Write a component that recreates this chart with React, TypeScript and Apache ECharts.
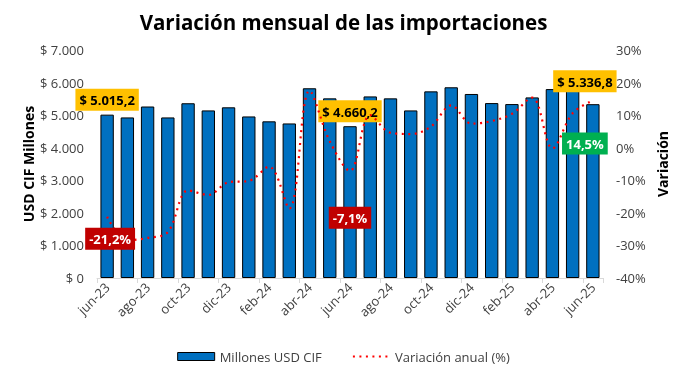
import React, { useEffect, useRef } from "react";
import * as echarts from "echarts";

const categories = [
  "jun-23", "jul-23", "ago-23", "sep-23", "oct-23", "nov-23", "dic-23",
  "ene-24", "feb-24", "mar-24", "abr-24", "may-24", "jun-24", "jul-24",
  "ago-24", "sep-24", "oct-24", "nov-24", "dic-24", "ene-25", "feb-25",
  "mar-25", "abr-25", "may-25", "jun-25",
];

const importsUSD = [
  5015.2, 4930, 5265, 4930, 5365, 5145, 5240, 4960, 4810, 4745, 5825, 5515,
  4660.2, 5575, 5515, 5145, 5730, 5855, 5650, 5370, 5340, 5545, 5800, 5900,
  5336.8,
];

const annualVariation = [
  -21.2, -28.4, -27.7, -25.9, -13.1, -14.5, -10.6, -10.2, -5.8, -18.7, 17.5,
  2.0, -7.1, 10.0, 4.6, 4.2, 6.5, 13.0, 7.4, 8.2, 10.4, 15.4, -0.2, 10.6, 14.5,
];

const leftTicks = [0, 7000, 1000];
const rightTicks = [-40, 30, 10];

const FONT = '"Open Sans", "Noto Sans", sans-serif';

function fmtThousands(v: number, decimals: number) {
  const fixed = Math.abs(v).toFixed(decimals);
  const [intPart, dec] = fixed.split(".");
  const withDots = intPart.replace(/\B(?=(\d{3})+(?!\d))/g, ".");
  return (v < 0 ? "-" : "") + withDots + (dec ? "," + dec : "");
}

export default function App() {
  const ref = useRef<HTMLDivElement>(null);

  useEffect(() => {
    if (!ref.current) return;
    const chart = echarts.init(ref.current, undefined, { renderer: "svg" });

    const barLabel = (offset: number[], distance: number) => ({
      show: true,
      position: "top",
      distance,
      offset,
      formatter: (p: any) => "$ " + fmtThousands(p.value, 1),
      backgroundColor: "#FFC000",
      color: "#000",
      fontFamily: FONT,
      fontWeight: "bold",
      fontSize: 13,
      padding: [4, 4, 3, 4],
      lineHeight: 15,
    });

    const lineLabel = (bg: string, offset: number[], distance: number) => ({
      show: true,
      position: "bottom",
      distance,
      offset,
      formatter: (p: any) => fmtThousands(p.value, 1) + "%",
      backgroundColor: bg,
      color: "#fff",
      fontFamily: FONT,
      fontWeight: "bold",
      fontSize: 13,
      padding: [4, 4, 3, 4],
      lineHeight: 15,
    });

    const last = categories.length - 1;
    const barData = importsUSD.map((v, i) => {
      if (i === 0) return { value: v, label: barLabel([0, 0], 4) };
      if (i === 12) return { value: v, label: barLabel([0, 0], 4) };
      if (i === last) return { value: v, label: barLabel([-8, -8], 4) };
      return v;
    });

    const lineData = annualVariation.map((v, i) => {
      if (i === 0) return { value: v, label: lineLabel("#C00000", [3, 0], 11) };
      if (i === 12) return { value: v, label: lineLabel("#C00000", [0, 0], 36) };
      if (i === last) return { value: v, label: lineLabel("#00B050", [-8, 0], 32) };
      return v;
    });

    const lineStyle = { color: "#FF0000", width: 2.2, type: [2, 4.5] };

    chart.setOption({
      animation: false,
      textStyle: { fontFamily: FONT },
      title: {
        text: "Variación mensual de las importaciones",
        left: "center",
        top: 6,
        textStyle: {
          fontFamily: FONT,
          fontWeight: "bold",
          fontSize: 20.5,
          color: "#000",
        },
      },
      legend: {
        left: "center",
        top: 345,
        itemWidth: 37,
        itemHeight: 8,
        itemGap: 30,
        textStyle: { fontFamily: FONT, fontSize: 13, color: "#404040" },
        data: [
          {
            name: "Millones USD CIF",
            icon: "rect",
            itemStyle: { color: "#0070C0", borderColor: "#000", borderWidth: 1 },
          },
          {
            name: "Variación anual (%)",
            itemStyle: { color: "rgba(0,0,0,0)", opacity: 0, borderWidth: 0 },
            lineStyle: lineStyle,
          },
        ],
      },
      grid: { left: 97, right: 84, top: 50, bottom: 92, containLabel: false },
      xAxis: {
        type: "category",
        data: categories,
        axisLine: { show: true, lineStyle: { color: "#D9D9D9", width: 1 } },
        axisTick: {
          show: true,
          interval: 1,
          alignWithLabel: false,
          length: 5,
          lineStyle: { color: "#D9D9D9" },
        },
        axisLabel: {
          interval: 1,
          rotate: 45,
          fontFamily: FONT,
          fontSize: 13,
          color: "#404040",
          margin: 7,
        },
      },
      yAxis: [
        {
          type: "value",
          min: leftTicks[0],
          max: leftTicks[1],
          interval: leftTicks[2],
          name: "USD CIF Millones",
          nameLocation: "middle",
          nameRotate: 90,
          nameGap: 62,
          nameMoveOverlap: false,
          nameTextStyle: {
            fontFamily: FONT,
            fontWeight: "bold",
            fontSize: 14,
            color: "#000",
          },
          axisLine: { show: false },
          axisTick: { show: false },
          splitLine: { show: false },
          axisLabel: {
            fontFamily: FONT,
            fontSize: 13,
            color: "#404040",
            margin: 13,
            formatter: (v: number) => "$ " + fmtThousands(v, 0),
          },
        },
        {
          type: "value",
          min: rightTicks[0],
          max: rightTicks[1],
          interval: rightTicks[2],
          position: "right",
          name: "Variación",
          nameLocation: "middle",
          nameRotate: 90,
          nameGap: 52,
          nameMoveOverlap: false,
          nameTextStyle: {
            fontFamily: FONT,
            fontWeight: "bold",
            fontSize: 14,
            color: "#000",
          },
          axisLine: { show: false },
          axisTick: { show: false },
          splitLine: { show: false },
          axisLabel: {
            fontFamily: FONT,
            fontSize: 13,
            color: "#404040",
            margin: 13,
            formatter: (v: number) => v + "%",
          },
        },
      ],
      series: [
        {
          name: "Millones USD CIF",
          type: "bar",
          yAxisIndex: 0,
          data: barData,
          barCategoryGap: "34%",
          itemStyle: { color: "#0070C0", borderColor: "#000", borderWidth: 1 },
        },
        {
          name: "Variación anual (%)",
          type: "line",
          yAxisIndex: 1,
          data: lineData,
          smooth: 0.35,
          symbol: "circle",
          symbolSize: 0,
          showSymbol: true,
          lineStyle: lineStyle,
          itemStyle: { color: "#FF0000" },
          z: 5,
        },
      ],
    });

    return () => chart.dispose();
  }, []);

  return (
    <div
      ref={ref}
      style={{ position: "fixed", left: 0, top: 0, width: 687, height: 370 }}
    />
  );
}
